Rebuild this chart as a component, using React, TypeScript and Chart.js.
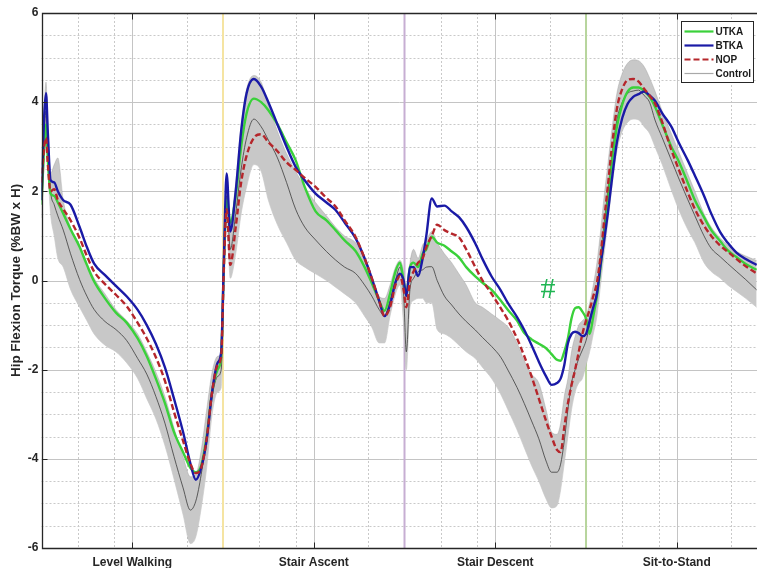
import React, { useEffect, useRef } from 'react';
import { Chart, registerables } from 'chart.js';

Chart.register(...registerables);

// Percent of task cycle (4 tasks × 100 %): Level Walking, Stair Ascent, Stair Descent, Sit-to-Stand
const PCT = [
  0, 1.5, 2.5, 3.5, 5, 7, 9, 12, 16, 21, 25, 29, 35, 41, 47, 53, 58, 63, 68, 73, 78, 82, 85, 88, 91, 94, 97, 99,
  100.5, 102, 104, 107, 110, 113, 117, 121, 125, 130, 135, 140, 145, 151, 157, 162, 167, 173, 178, 182, 186, 189, 192, 195, 197.5, 199.5,
  201, 203, 205, 207.5, 210, 212, 215, 218, 222, 226, 230, 234, 239, 243, 248, 253, 257, 262, 266, 270, 274, 278, 281, 284, 286, 288, 290, 292, 294, 296, 298, 300,
  302, 304, 306, 308, 310, 312, 314, 317, 320, 323, 326, 329, 332, 335, 338, 342, 347, 351, 356, 360, 365, 369, 374, 378, 383, 388, 394,
];

const UTKA = [
  1.7, 3.0, 3.5, 2.7, 1.95, 1.9, 1.75, 1.5, 1.15, 0.75, 0.35, -0.02, -0.4, -0.72, -0.95, -1.3, -1.7, -2.2, -2.75, -3.4, -3.85, -4.2, -4.3, -4.15, -3.5, -2.5, -2.0, -1.7,
  0.4, 1.8, 1.3, 1.9, 3.0, 3.75, 4.08, 4.0, 3.82, 3.5, 3.1, 2.7, 2.1, 1.55, 1.35, 1.13, 0.9, 0.66, 0.3, -0.06, -0.45, -0.68, -0.3, 0.2, 0.4, 0.0,
  -0.3, 0.3, 0.4, 0.3, 0.6, 0.7, 0.98, 0.85, 0.78, 0.65, 0.52, 0.3, 0.09, -0.05, -0.21, -0.45, -0.66, -0.9, -1.18, -1.32, -1.42, -1.52, -1.65, -1.78, -1.8, -1.6, -1.3, -0.85, -0.62, -0.6, -0.7, -0.85,
  -1.2, -0.8, -0.35, 0.3, 1.0, 1.75, 2.55, 3.45, 3.95, 4.24, 4.33, 4.33, 4.25, 4.12, 3.9, 3.5, 3.0, 2.68, 2.2, 1.8, 1.42, 1.13, 0.88, 0.68, 0.52, 0.37, 0.24,
];

const BTKA = [
  1.8, 3.7, 4.2, 3.3, 2.25, 2.2, 2.0, 1.8, 1.7, 1.2, 0.75, 0.38, 0.12, -0.12, -0.36, -0.66, -1.0, -1.42, -1.95, -2.65, -3.4, -4.1, -4.47, -4.2, -3.58, -2.5, -1.85, -1.6,
  0.5, 2.4, 1.1, 2.0, 3.35, 4.2, 4.52, 4.35, 4.0, 3.5, 3.0, 2.55, 2.25, 1.95, 1.75, 1.58, 1.3, 0.95, 0.5, 0.05, -0.45, -0.8, -0.55, -0.05, 0.15, 0.0,
  -0.35, 0.3, 0.3, 0.1, 0.5, 1.0, 1.84, 1.66, 1.68, 1.55, 1.42, 1.2, 0.83, 0.48, 0.09, -0.22, -0.51, -0.82, -1.11, -1.45, -1.82, -2.15, -2.34, -2.3, -2.2, -1.9, -1.41, -1.2, -1.15, -1.18, -1.25, -1.2,
  -0.9, -0.6, -0.3, 0.35, 0.9, 1.5, 2.18, 3.1, 3.65, 3.97, 4.12, 4.18, 4.24, 4.15, 4.03, 3.75, 3.45, 3.1, 2.7, 2.35, 1.9, 1.5, 1.08, 0.85, 0.62, 0.48, 0.35,
];

const NOP = [
  2.2, 3.0, 3.2, 2.6, 2.0, 2.05, 1.8, 1.6, 1.35, 0.95, 0.55, 0.2, -0.08, -0.32, -0.58, -0.95, -1.3, -1.72, -2.25, -2.95, -3.6, -4.1, -4.32, -4.2, -3.55, -2.5, -1.9, -1.7,
  0.3, 1.6, 0.35, 1.2, 2.2, 2.8, 3.2, 3.28, 3.1, 2.9, 2.65, 2.48, 2.3, 2.1, 1.85, 1.66, 1.35, 0.98, 0.5, 0.05, -0.45, -0.8, -0.6, -0.1, 0.1, -0.2,
  -0.6, 0.0, 0.2, 0.4, 0.5, 0.75, 1.0, 1.25, 1.13, 1.05, 0.97, 0.7, 0.3, 0.0, -0.3, -0.62, -0.89, -1.3, -1.7, -2.15, -2.65, -3.15, -3.5, -3.8, -3.85, -3.3, -2.76, -2.35, -2.0, -1.6, -1.2, -0.9,
  -0.65, -0.35, -0.05, 0.55, 1.35, 2.1, 2.9, 3.85, 4.3, 4.5, 4.52, 4.46, 4.3, 4.15, 3.97, 3.55, 2.93, 2.5, 1.98, 1.6, 1.23, 1.0, 0.78, 0.65, 0.48, 0.32, 0.16,
];

const CONTROL = [
  2.0, 3.3, 3.8, 3.0, 2.0, 1.7, 1.45, 1.13, 0.6, 0.02, -0.35, -0.65, -0.92, -1.1, -1.35, -1.75, -2.1, -2.6, -3.2, -3.95, -4.65, -5.15, -4.95, -4.35, -3.5, -2.6, -2.15, -2.0,
  0.3, 1.9, 0.7, 1.5, 2.5, 3.2, 3.62, 3.45, 3.15, 2.75, 2.2, 1.6, 1.2, 0.91, 0.65, 0.46, 0.3, 0.16, -0.1, -0.35, -0.65, -0.8, -0.45, 0.0, 0.3, -0.3,
  -1.6, -0.2, 0.05, 0.2, 0.24, 0.3, 0.31, 0.0, -0.35, -0.55, -0.75, -0.92, -1.11, -1.28, -1.48, -1.72, -2.01, -2.4, -2.76, -3.15, -3.55, -4.05, -4.3, -4.3, -4.12, -3.6, -2.9, -2.3, -2.0, -1.75, -1.56, -1.35,
  -1.0, -0.6, -0.2, 0.55, 1.28, 2.0, 2.7, 3.6, 4.0, 4.2, 4.25, 4.27, 4.15, 4.0, 3.6, 3.2, 2.7, 2.3, 1.82, 1.45, 1.0, 0.72, 0.53, 0.38, 0.2, 0.02, -0.21,
];

const CONTROL_HI = [
  2.5, 3.9, 4.45, 3.5, 2.4, 2.6, 2.75, 1.8, 1.2, 0.8, 0.4, 0.05, -0.3, -0.65, -0.9, -1.2, -1.6, -2.05, -2.6, -3.3, -3.95, -4.4, -4.35, -3.8, -2.9, -2.05, -1.7, -1.6,
  0.8, 2.2, 1.3, 2.2, 3.5, 4.3, 4.6, 4.45, 3.95, 3.35, 2.85, 2.45, 2.1, 1.75, 1.45, 1.2, 1.0, 0.85, 0.5, 0.05, -0.35, -0.4, -0.1, 0.3, 0.45, 0.2,
  -0.4, 0.4, 0.7, 0.5, 0.8, 0.9, 1.1, 0.85, 0.6, 0.4, 0.15, -0.1, -0.5, -0.6, -0.75, -0.9, -1.04, -1.4, -1.8, -2.1, -2.3, -2.9, -3.4, -3.45, -3.2, -2.6, -2.2, -1.6, -1.25, -1.0, -0.9, -0.8,
  -0.5, -0.1, 0.4, 1.1, 1.9, 2.6, 3.3, 4.2, 4.65, 4.88, 4.95, 4.93, 4.8, 4.55, 4.25, 3.8, 3.3, 2.9, 2.4, 2.0, 1.5, 1.2, 0.95, 0.8, 0.65, 0.55, 0.45,
];

const CONTROL_LO = [
  1.4, 2.7, 3.2, 2.5, 1.5, 1.0, 0.5, 0.3, -0.2, -0.6, -0.9, -1.2, -1.45, -1.6, -1.85, -2.2, -2.65, -3.1, -3.7, -4.45, -5.25, -5.9, -5.75, -5.1, -4.2, -3.0, -2.5, -2.4,
  -0.3, 1.4, 0.05, 0.6, 1.5, 2.1, 2.6, 2.45, 1.8, 1.25, 0.85, 0.46, 0.3, 0.15, 0.0, -0.15, -0.3, -0.5, -0.8, -1.05, -1.4, -1.4, -0.8, -0.3, -0.1, -1.0,
  -2.0, -0.6, -0.45, -0.4, -0.4, -0.5, -0.5, -1.1, -1.2, -1.3, -1.45, -1.6, -1.75, -1.95, -2.2, -2.55, -2.9, -3.35, -3.75, -4.15, -4.5, -4.9, -5.1, -5.05, -4.7, -4.1, -3.5, -2.9, -2.5, -2.3, -2.2, -1.9,
  -1.6, -1.2, -0.8, -0.1, 0.6, 1.3, 2.0, 2.9, 3.35, 3.55, 3.62, 3.6, 3.45, 3.3, 3.0, 2.6, 2.03, 1.6, 1.15, 0.85, 0.4, 0.2, 0.05, -0.1, -0.25, -0.4, -0.6,
];

const TASK_LABELS = ['Level Walking', 'Stair Ascent', 'Stair Descent', 'Sit-to-Stand'];
const TASK_CENTERS = [50, 150, 250, 350];
const TASK_BOUNDS = [100, 200, 300];
const BOUND_COLORS = ['#f5e4a2', '#c7aed3', '#b7d59d'];
const X_MINOR = [20, 40, 80, 120, 140, 180, 220, 240, 280, 320, 340, 380];
const Y_TICKS = [-6, -4, -2, 0, 2, 4, 6];
const Y_MINOR = [-5.5, -5, -4.5, -3.5, -3, -2.5, -1.5, -1, -0.5, 0.5, 1, 1.5, 2.5, 3, 3.5, 4.5, 5, 5.5];
const LEGEND_ORDER = ['UTKA', 'BTKA', 'NOP', 'Control'];
const MARK = { text: '#', x: 279, y: -0.2 };

const FONT = "'Liberation Sans', Arial, Helvetica, sans-serif";

const overlay = {
  id: 'overlay',
  beforeDatasetsDraw(chart: any) {
    const { ctx, chartArea: a, scales } = chart;
    const xs = scales.x;
    const ys = scales.y;
    const right = chart.width;
    ctx.save();
    ctx.lineWidth = 1;
    // minor dotted grid
    ctx.strokeStyle = '#c9c9c9';
    ctx.setLineDash([2, 2]);
    for (const v of Y_MINOR) {
      const p = Math.round(ys.getPixelForValue(v)) + 0.5;
      ctx.beginPath(); ctx.moveTo(a.left, p); ctx.lineTo(right, p); ctx.stroke();
    }
    for (const v of X_MINOR) {
      const p = Math.round(xs.getPixelForValue(v)) + 0.5;
      ctx.beginPath(); ctx.moveTo(p, a.top); ctx.lineTo(p, a.bottom); ctx.stroke();
    }
    ctx.setLineDash([]);
    // major solid grid
    ctx.strokeStyle = '#c4c4c4';
    for (const v of Y_TICKS) {
      if (v === -6 || v === 6) continue;
      const p = Math.round(ys.getPixelForValue(v)) + 0.5;
      ctx.beginPath(); ctx.moveTo(a.left, p); ctx.lineTo(right, p); ctx.stroke();
    }
    for (const v of TASK_CENTERS) {
      const p = Math.round(xs.getPixelForValue(v)) + 0.5;
      ctx.beginPath(); ctx.moveTo(p, a.top); ctx.lineTo(p, a.bottom); ctx.stroke();
    }
    // task boundaries
    ctx.lineWidth = 2;
    TASK_BOUNDS.forEach((v, i) => {
      const p = xs.getPixelForValue(v);
      ctx.strokeStyle = BOUND_COLORS[i];
      ctx.beginPath(); ctx.moveTo(p, a.top); ctx.lineTo(p, a.bottom); ctx.stroke();
    });
    ctx.restore();
  },
  afterDatasetsDraw(chart: any) {
    const { ctx, chartArea: a, scales } = chart;
    const xs = scales.x;
    const ys = scales.y;
    const right = chart.width;
    ctx.save();
    // axes box
    ctx.strokeStyle = '#262626';
    ctx.lineWidth = 1.3;
    const L = Math.round(a.left) + 0.5;
    const T = Math.round(a.top) + 0.5;
    const B = Math.round(a.bottom) + 0.5;
    ctx.beginPath();
    ctx.moveTo(right, T); ctx.lineTo(L, T); ctx.lineTo(L, B); ctx.lineTo(right, B);
    ctx.stroke();
    // tick marks (inside)
    ctx.lineWidth = 1;
    for (const v of TASK_CENTERS) {
      const p = Math.round(xs.getPixelForValue(v)) + 0.5;
      ctx.beginPath(); ctx.moveTo(p, T); ctx.lineTo(p, T + 6); ctx.stroke();
      ctx.beginPath(); ctx.moveTo(p, B); ctx.lineTo(p, B - 6); ctx.stroke();
    }
    for (const v of Y_TICKS) {
      const p = Math.round(ys.getPixelForValue(v)) + 0.5;
      ctx.beginPath(); ctx.moveTo(L, p); ctx.lineTo(L + 5, p); ctx.stroke();
    }
    // significance mark
    ctx.fillStyle = '#1fb552';
    ctx.font = "30px 'Liberation Serif', 'Times New Roman', serif";
    ctx.textAlign = 'center';
    ctx.textBaseline = 'middle';
    ctx.fillText(MARK.text, xs.getPixelForValue(MARK.x), ys.getPixelForValue(MARK.y) + 1);

    // legend box
    const bx = 681.5, by = 21.5, bw = 72, bh = 61;
    ctx.fillStyle = '#ffffff';
    ctx.fillRect(bx, by, bw, bh);
    ctx.strokeStyle = '#262626';
    ctx.lineWidth = 1;
    ctx.strokeRect(bx, by, bw, bh);
    ctx.font = `bold 10px ${FONT}`;
    ctx.textAlign = 'left';
    ctx.textBaseline = 'middle';
    LEGEND_ORDER.forEach((name, i) => {
      const ds = chart.data.datasets.find((d: any) => d.label === name);
      const yy = by + 10 + i * 14;
      ctx.save();
      ctx.strokeStyle = ds.legendColor || ds.borderColor;
      ctx.lineWidth = name === 'Control' ? 1.2 : 2.2;
      ctx.setLineDash(ds.borderDash || []);
      ctx.beginPath(); ctx.moveTo(bx + 3, yy); ctx.lineTo(bx + 32, yy); ctx.stroke();
      ctx.restore();
      ctx.fillStyle = '#1a1a1a';
      ctx.fillText(name, bx + 34, yy + 0.5);
    });
    ctx.restore();
  },
};

export default function App() {
  const ref = useRef<HTMLCanvasElement>(null);
  useEffect(() => {
    document.body.style.margin = '0';
    const pts = (arr: number[]) => PCT.map((x, i) => ({ x, y: arr[i] }));
    const chart = new Chart(ref.current as HTMLCanvasElement, {
      type: 'line',
      data: {
        datasets: [
          { label: 'NOP', data: pts(NOP), borderColor: '#b5262b', borderWidth: 2.4, borderDash: [6, 3], fill: false, order: 0 },
          { label: 'BTKA', data: pts(BTKA), borderColor: '#1a1aa6', borderWidth: 2.4, fill: false, order: 1 },
          { label: 'UTKA', data: pts(UTKA), borderColor: '#3ad13a', borderWidth: 2.4, fill: false, order: 2 },
          { label: 'Control', data: pts(CONTROL), borderColor: '#3c3c3c', legendColor: '#a8a8a8', borderWidth: 0.8, fill: false, order: 3 } as any,
          { label: 'Control +SD', data: pts(CONTROL_HI), borderColor: 'rgba(150,150,150,0.6)', borderWidth: 0.6, backgroundColor: 'rgb(200,200,200)', fill: '+1', order: 4 },
          { label: 'Control -SD', data: pts(CONTROL_LO), borderColor: 'rgba(150,150,150,0.6)', borderWidth: 0.6, fill: false, order: 5 },
        ],
      },
      options: {
        responsive: false,
        animation: false,
        layout: { padding: { top: 13, right: 0, bottom: 0, left: 0 } },
        elements: { point: { radius: 0 }, line: { cubicInterpolationMode: 'monotone' } },
        plugins: { legend: { display: false }, tooltip: { enabled: false } },
        scales: {
          x: {
            type: 'linear',
            min: 0,
            max: 394.2,
            grid: { display: false, drawTicks: false },
            border: { display: false },
            afterBuildTicks: (s: any) => { s.ticks = TASK_CENTERS.map((v) => ({ value: v })); },
            afterFit: (s: any) => { s.height = 20; },
            ticks: {
              autoSkip: false,
              maxRotation: 0,
              padding: 7,
              color: '#262626',
              font: { family: FONT, size: 12, weight: 'bold' },
              callback: (v: any) => TASK_LABELS[TASK_CENTERS.indexOf(Number(v))],
            },
          },
          y: {
            type: 'linear',
            min: -6,
            max: 6,
            grid: { display: false, drawTicks: false },
            border: { display: false },
            afterBuildTicks: (s: any) => { s.ticks = Y_TICKS.map((v) => ({ value: v })); },
            afterFit: (s: any) => { s.width = 41.5; },
            ticks: {
              padding: 3,
              color: '#262626',
              font: { family: FONT, size: 12, weight: 'bold' },
              callback: (v: any) => String(v),
            },
            title: {
              display: true,
              text: 'Hip Flexion Torque (%BW x H)',
              color: '#262626',
              font: { family: FONT, size: 13.5, weight: 'bold' },
              padding: { top: 8, bottom: 0 },
            },
          },
        },
      },
      plugins: [overlay],
    } as any);
    return () => chart.destroy();
  }, []);
  return <canvas ref={ref} width={757} height={568} style={{ display: 'block' }} />;
}
